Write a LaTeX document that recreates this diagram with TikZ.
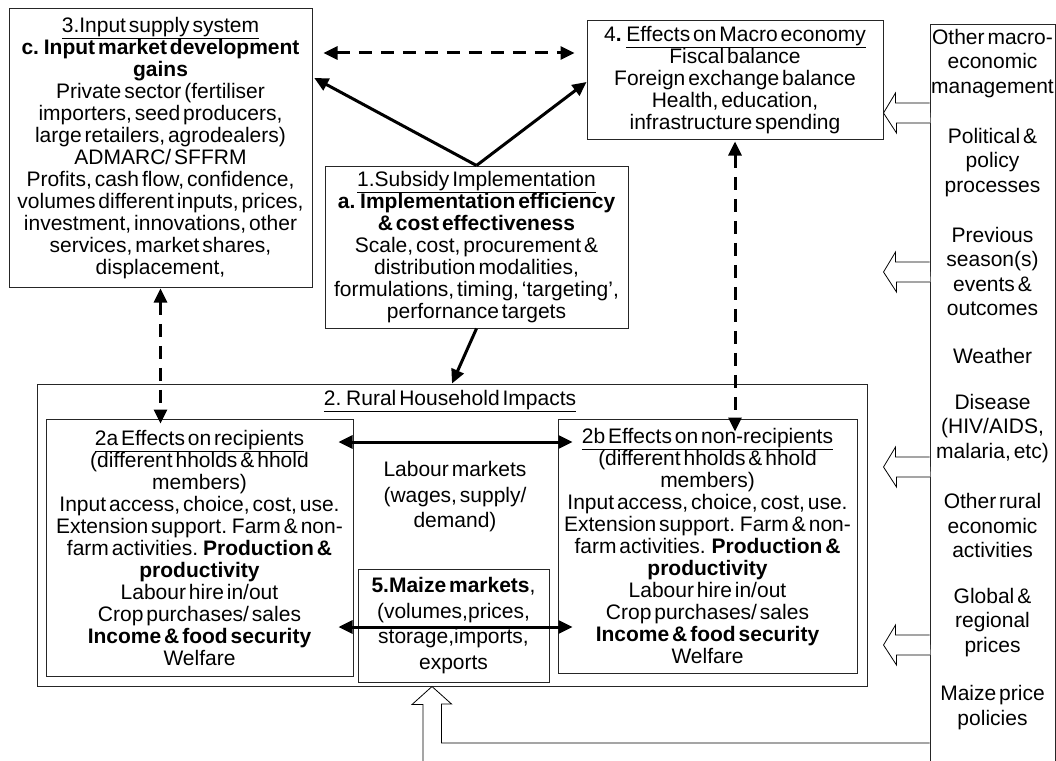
\documentclass[tikz,border=0pt]{standalone}
\usepackage{fontspec}
\setmainfont{Liberation Sans}[WordSpace=0.5]
\usetikzlibrary{arrows.meta,calc}
\begin{document}
\begin{tikzpicture}[x=1pt,y=-1pt,
  txt/.style={font=\fontsize{21}{22}\selectfont, align=center, inner sep=0pt},
  wtxt/.style={font=\fontsize{21}{25.5}\selectfont, align=center, inner sep=0pt},
  rtxt/.style={font=\fontsize{21}{24.5}\selectfont, align=center, inner sep=0pt},
  box/.style={draw=black!85, line width=1pt, inner sep=0pt},
  arr/.style={line width=3pt, -{Triangle[length=14pt,width=13pt]}},
  darr/.style={line width=3pt, {Triangle[length=14pt,width=13pt]}-{Triangle[length=14pt,width=13pt]}},
  dasharr/.style={darr, dash pattern=on 13pt off 9pt},
  hollow/.style={draw=black, line width=0.8pt, fill=white, line join=miter},
]
\useasboundingbox (0,0) rectangle (1056,760);
\clip (0,0) rectangle (1056,760);

% ---- boxes
\node[box, txt, minimum width=303pt, minimum height=278pt] (b3) at (160.5,148) {%
\underline{3.Input supply system}\\
\textbf{c. Input market development}\\
\textbf{gains}\\
Private sector (fertiliser\\
importers, seed producers,\\
large retailers, agrodealers)\\
ADMARC/ SFFRM\\
Profits, cash flow, confidence,\\
volumes different inputs, prices,\\
investment, innovations, other\\
services, market shares,\\
displacement,};

\node[box, txt, minimum width=296pt, minimum height=118pt] (b4) at (735,80) {%
4\textbf{.} \underline{Effects on Macro economy}\\
Fiscal balance\\
Foreign exchange balance\\
Health, education,\\
infrastructure spending};

\node[box, txt, minimum width=303pt, minimum height=162pt] (b1) at (476.5,247) {%
\underline{1.Subsidy Implementation}\\
\textbf{a. Implementation efficiency}\\
\textbf{\& cost effectiveness}\\
Scale, cost, procurement \&\\
distribution modalities,\\
formulations, timing, ‘targeting’,\\
perfornance targets};

\node[box, minimum width=830pt, minimum height=302pt] (rh) at (452,535) {};
\node[txt] (rht) at (450,401) {\underline{2. Rural Household Impacts}};

\node[box, txt, minimum width=307pt, minimum height=257pt] (r2a) at (199.5,547.5) {%
\underline{2a Effects on recipients}\\
(different hholds \& hhold\\
members)\\
Input access, choice, cost, use.\\
Extension support. Farm \& non-\\
farm activities. \textbf{Production \&}\\
\textbf{productivity}\\
Labour hire in/out\\
Crop purchases/ sales\\
\textbf{Income \& food security}\\
Welfare};

\node[box, txt, minimum width=299pt, minimum height=254pt] (r2b) at (707.5,546) {%
\underline{2b Effects on non-recipients}\\
(different hholds \& hhold\\
members)\\
Input access, choice, cost, use.\\
Extension support. Farm \& non-\\
farm activities.\ \ \textbf{Production \&}\\
\textbf{productivity}\\
Labour hire in/out\\
Crop purchases/ sales\\
\textbf{Income \& food security}\\
Welfare};

\node[wtxt] (lab) at (455,497) {Labour markets\\(wages, supply/\\demand)};

\node[box, wtxt, minimum width=191pt, minimum height=113pt] (mz) at (453.5,625.5) {%
\textbf{5.Maize markets},\\
(volumes,prices,\\
storage,imports,\\
exports};

% ---- right column
\node[box, minimum width=125pt, minimum height=800pt] (rc) at (992.5,425) {};
\node[rtxt] (c1) at (992.5,63.5) {Other macro-\\economic\\management};
\node[rtxt] (c2) at (992.5,162.5) {Political \&\\policy\\processes};
\node[rtxt] (c3) at (992.5,271.5) {Previous\\season(s)\\events \&\\outcomes};
\node[rtxt] (c4) at (992.5,356) {Weather};
\node[rtxt] (c5) at (992.5,428.5) {Disease\\(HIV/AIDS,\\malaria, etc)};
\node[rtxt] (c6) at (992.5,525.5) {Other rural\\economic\\activities};
\node[rtxt] (c7) at (992.5,622.5) {Global \&\\regional\\prices};
\node[rtxt] (c8) at (992.5,707.5) {Maize price\\policies};

% ---- helper coordinates
\coordinate (dy) at (0,53);
\coordinate (a1) at (0,77);
\coordinate (a2) at (0,82);
\coordinate (l1) at (0,442);
\coordinate (l2) at (0,627);
\coordinate (h1) at (0,113);
\coordinate (h2) at (0,272);
\coordinate (h3) at (0,467);
\coordinate (h4) at (0,645);
\coordinate (lb) at (0,743);

% ---- arrows
\draw[dasharr, shorten <=11pt, shorten >=12pt] (b3.east |- dy) -- (b4.west |- dy);
\draw[arr, shorten >=2pt] (b1.north) -- (b3.east |- a1);
\draw[arr] (b1.north) -- (b4.west |- a2);
\draw[arr] (b1.south) -- (rh.north);
\draw[dasharr, shorten <=1pt, shorten >=-5pt] (b3.south) -- (b3.south |- r2a.north);
\draw[dasharr, shorten <=2pt, shorten >=-13pt] (b4.south) -- (b4.south |- r2b.north);
\draw[darr, shorten <=-15pt, shorten >=-15pt] (r2a.east |- l1) -- (r2b.west |- l1);
\draw[darr, shorten <=-15pt, shorten >=-15pt] (r2a.east |- l2) -- (r2b.west |- l2);

% ---- hollow arrows from the right column
\foreach \h in {h1,h2,h3,h4}{
  \draw[hollow] (rc.west |- \h) ++(0,-10) -- ++(-34,0) -- ++(0,-10)
    -- (b4.east |- \h) -- ++(13,20) -- ++(0,-10) -- ++(34,0);
}
\draw[hollow] (rc.west |- lb) -- ++(-488,0) -- ++(0,-39) -- ++(10,0)
  -- ($(mz.south)+(-21.5,4)$) -- ++(-20,18) -- ++(11,0) -- ++(0,60) -- ++(507,0);
\end{tikzpicture}
\end{document}
